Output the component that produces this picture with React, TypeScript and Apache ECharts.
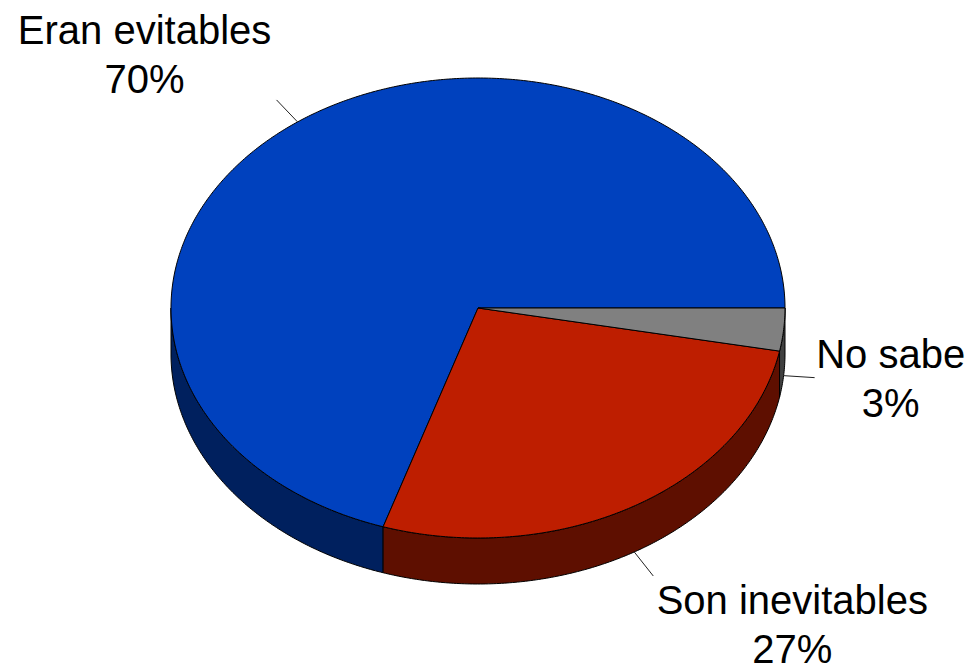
import React, { useEffect, useRef } from 'react';
import * as echarts from 'echarts';

// ---- data ----
const categories: string[] = ['Eran evitables', 'Son inevitables', 'No sabe'];
const values: number[] = [70, 27, 3];

// ---- styles / layout ----
const topColors = ['#0041BE', '#BE1E00', '#808080'];
const sideColors = ['#00205E', '#5E0F00', '#404040'];
const leaderVec = [[-21, -22], [19, 24], [31, 2]];
const labelVec = [[-153, -67], [158, 72.5], [107, 3]];

const CX = 478, CY = 308, RX = 307, RY = 230, DEPTH = 46;
const FONT = "'Liberation Sans', Arial, sans-serif";

const total = values.reduce((a, b) => a + b, 0);

function span(i: number, v: number): [number, number] {
  let before = 0;
  for (let k = 0; k < i; k++) before += values[k];
  const end = 2 * Math.PI - (before / total) * 2 * Math.PI;
  const start = 2 * Math.PI - ((before + v) / total) * 2 * Math.PI;
  return [start, end];
}
function pt(t: number, dy = 0): number[] {
  return [CX + RX * Math.cos(t), CY + RY * Math.sin(t) + dy];
}
function arcPts(a: number, b: number, dy: number): number[][] {
  const n = Math.max(2, Math.ceil((b - a) / (Math.PI / 360)));
  const out: number[][] = [];
  for (let j = 0; j <= n; j++) out.push(pt(a + ((b - a) * j) / n, dy));
  return out;
}

export default function App() {
  const ref = useRef<HTMLDivElement>(null);
  useEffect(() => {
    document.body.style.margin = '0';
    const chart = echarts.init(ref.current!, undefined, { renderer: 'svg' });
    const data = values.map((v, i) => ({ name: categories[i], value: v }));
    chart.setOption({
      animation: false,
      backgroundColor: '#ffffff',
      series: [
        {
          type: 'custom',
          name: 'sides',
          coordinateSystem: 'none',
          silent: true,
          z: 1,
          data,
          renderItem: (params: any, api: any) => {
            const i = params.dataIndex;
            const v = api.value(0);
            const [a, b] = span(i, v);
            const a2 = Math.max(a, 0);
            const b2 = Math.min(b, Math.PI);
            if (a2 >= b2) return { type: 'group', children: [] };
            const pts = [...arcPts(a2, b2, 0), ...arcPts(a2, b2, DEPTH).reverse()];
            return {
              type: 'polygon',
              shape: { points: pts },
              style: { fill: sideColors[i], stroke: '#000', lineWidth: 1 },
            };
          },
        },
        {
          type: 'custom',
          name: 'tops',
          coordinateSystem: 'none',
          silent: true,
          z: 2,
          data,
          renderItem: (params: any, api: any) => {
            const i = params.dataIndex;
            const v = api.value(0);
            const [a, b] = span(i, v);
            const pts = [[CX, CY], ...arcPts(a, b, 0)];
            const mid = (a + b) / 2;
            const s = pt(mid, Math.sin(mid) > 0 ? DEPTH : 0);
            const e = [s[0] + leaderVec[i][0], s[1] + leaderVec[i][1]];
            const c = [s[0] + labelVec[i][0], s[1] + labelVec[i][1]];
            const pct = Math.round((v / total) * 100) + '%';
            return {
              type: 'group',
              children: [
                {
                  type: 'polygon',
                  shape: { points: pts },
                  style: { fill: topColors[i], stroke: '#000', lineWidth: 1 },
                },
                {
                  type: 'line',
                  shape: { x1: s[0], y1: s[1], x2: e[0], y2: e[1] },
                  style: { stroke: '#222', lineWidth: 1 },
                },
                {
                  type: 'text',
                  x: c[0],
                  y: c[1],
                  style: {
                    text: categories[i] + '\n' + pct,
                    fontSize: 40,
                    fontFamily: FONT,
                    fill: '#000',
                    align: 'center',
                    verticalAlign: 'middle',
                    lineHeight: 49,
                  },
                },
              ],
            };
          },
        },
      ],
    });
    return () => chart.dispose();
  }, []);
  return <div ref={ref} style={{ width: 974, height: 665 }} />;
}
